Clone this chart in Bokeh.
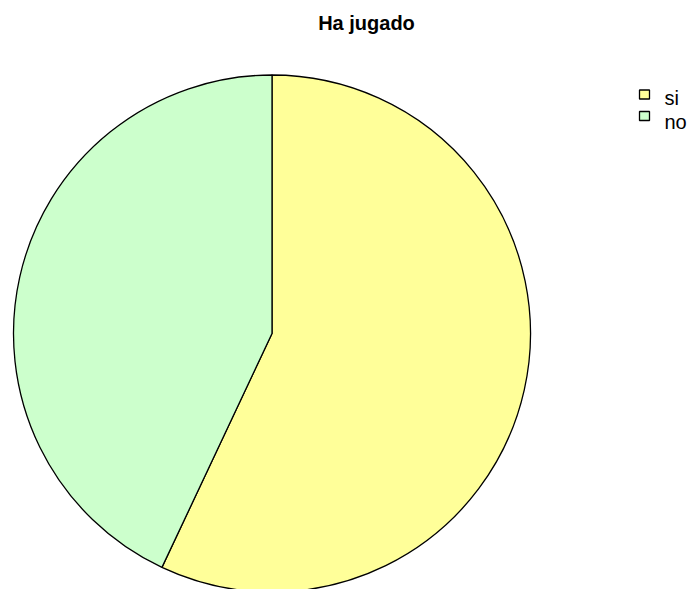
from bokeh.plotting import figure
from bokeh.models import Range1d, ColumnDataSource
from bokeh.embed import file_html
from bokeh.resources import INLINE
from bokeh.core.properties import value
import math

title_text = "Ha jugado"
categories = ["si", "no"]
values = [57, 43]
colors = ["#FFFF99", "#CCFFCC"]

W, H = 688, 589
cx, cy, r = 271.5, H - 333, 258.5

total = sum(values)
starts, ends = [], []
a = math.pi / 2
for v in values:
    starts.append(a)
    a = a - v / total * 2 * math.pi
    ends.append(a)

src = ColumnDataSource(dict(start=starts, end=ends, color=colors, cat=categories))

p = figure(width=W, height=H, x_range=Range1d(0, W), y_range=Range1d(0, H),
           output_backend="svg", toolbar_location=None, min_border=0)
p.axis.visible = False
p.grid.visible = False
p.outline_line_color = None
p.background_fill_color = "white"

p.wedge(x=cx, y=cy, radius=r, start_angle="start", end_angle="end", direction="clock",
        fill_color="color", line_color="black", line_width=1.3, source=src)

p.text(x=[366], y=[H - 22], text=[title_text], text_font=value("Liberation Sans"),
       text_font_style="bold", text_font_size="20px", text_align="center",
       text_baseline="middle", text_color="black")

ly = [H - 94, H - 115.5]
p.rect(x=[644] * len(categories), y=ly, width=10, height=9, fill_color=colors,
       line_color="black", line_width=1.3)
p.text(x=[664] * len(categories), y=[H - 97, H - 121], text=categories,
       text_font=value("Liberation Sans"), text_font_size="20px",
       text_baseline="middle", text_align="left", text_color="black")

open("out.html", "w").write(file_html(p, INLINE))
